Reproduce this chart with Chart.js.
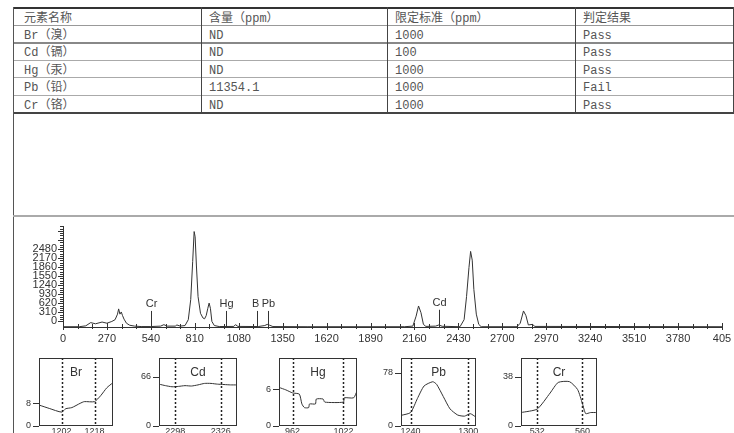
<!DOCTYPE html>
<html><head><meta charset="utf-8">
<script src="https://cdn.jsdelivr.net/npm/chart.js@4/dist/chart.umd.min.js"></script>
<style>
html,body{margin:0;padding:0;background:#fff;width:734px;height:433px;overflow:hidden;}
body{position:relative;}
.ln{position:absolute;background:#444;}
.cell{position:absolute;font-family:"Liberation Mono","Noto Sans CJK SC",monospace;font-size:12px;color:#555;white-space:nowrap;line-height:14px;}
canvas{position:absolute;}
</style>
</head><body>
<script>
// ---------- table data ----------
const tableHeader = ['元素名称','含量（ppm）','限定标准（ppm）','判定结果'];
const elementNames = ['Br（溴）','Cd（镉）','Hg（汞）','Pb（铅）','Cr（铬）'];
const contents = ['ND','ND','ND','11354.1','ND'];
const limits = ['1000','100','1000','1000','1000'];
const verdicts = ['Pass','Pass','Pass','Fail','Pass'];

// ---------- spectrum data (channel, counts) ----------
const specX = [0,100,140,170,200,240,270,300,320,335,342,350,358,366,375,390,410,440,480,540,600,620,640,690,700,720,750,770,785,797,806,812,820,830,845,860,870,880,890,898,906,915,930,960,1050,1060,1075,1200,1240,1255,1270,1290,1500,2100,2150,2170,2185,2200,2215,2230,2290,2310,2330,2440,2465,2480,2495,2505,2515,2525,2540,2555,2570,2790,2810,2830,2845,2860,2885,2900,4050];
const specY = [-180,-180,-150,-40,-80,-20,-60,0,60,250,430,250,325,200,80,-60,-130,-160,-175,-175,-160,-110,-160,-160,-120,-160,-140,60,750,2050,3080,2900,1900,850,280,120,90,200,450,630,450,0,-140,-175,-170,-110,-170,-175,-140,-100,-130,-175,-180,-180,-160,180,530,300,-100,-170,-160,-120,-165,-180,60,850,1850,2400,2100,1100,250,-100,-180,-180,-60,360,200,-120,-100,-170,-180];
const xTickVals = [0,270,540,810,1080,1350,1620,1890,2160,2430,2700,2970,3240,3510,3780,4050];
const xTickLabels = ['0','270','540','810','1080','1350','1620','1890','2160','2430','2700','2970','3240','3510','3780','405'];
const yTickVals = [0,310,620,930,1240,1550,1860,2170,2480];
const yTickLabels = ['0','310','620','930','1240','1550','1860','2170','2480'];
const markerNames = ['Cr','Hg','Br','Pb','Cd'];
const markerChannels = [541,999,1192,1261,2310];
const markerLevels = [360,360,360,360,400];

// ---------- inset data ----------
const insetNames = ['Br','Cd','Hg','Pb','Cr'];
const brX = [1191,1196,1202,1204,1207,1211,1213,1218,1221,1224,1227];
const brY = [7.4,6.2,4.9,6.1,6.5,8.0,8.6,8.6,10.7,13.5,15.3];
const cdX = [2288,2292,2296,2300,2304,2308,2312,2316,2320,2324,2328,2332,2336];
const cdY = [56,54,52.5,53,54,53.5,55,57,57,56,55.5,55,55];
const hgX = [946,954,962,970,973,976,981,982,989,990,998,1000,1022,1023,1034,1038];
const hgY = [6.3,5.9,5.4,5.2,3.6,3.0,3.0,3.6,3.6,4.4,4.4,3.9,3.9,4.6,4.6,5.7];
const pbX = [1230,1240,1247,1254,1263,1267,1274,1281,1289,1296,1302,1308];
const pbY = [15.5,19.7,40,58.5,64.7,61,43,25,16,14.4,18,13];
const crX = [522,532,540,545,552,557,560,562,565,569];
const crY = [10.4,13.1,25.5,33.7,34.3,28.2,17.3,9.6,10.4,10.4];
const insetXs = [brX,cdX,hgX,pbX,crX];
const insetYs = [brY,cdY,hgY,pbY,crY];
const insetXMin = [1191,2288,946,1230,522];
const insetXMax = [1227,2336,1038,1308,569];
const insetYMax = [24,91,11.1,99.4,52.6];
const insetYTick = [8,66,6,78,38];
const insetRoiLo = [1202,2298,962,1240,532];
const insetRoiHi = [1218,2326,1022,1300,560];

// ---------- layout ----------
const colX = [13,201,387,575,733];
const rowY = [7,25,42,60,77,95,112];
const rowTextShift = [2,1,1,1,1,1];
const rowLineStyle = [['1.5px','#333'],['1px','#999'],['2px','#888'],['1px','#aaa'],['1px','#aaa'],['1px','#aaa'],['1.5px','#444']];
const insetLeft = [39,159,279,401,521];
const insetWidth = [74,78,78,75,76];

function addLine(x,y,w,h,c){const d=document.createElement('div');d.className='ln';d.style.left=x+'px';d.style.top=y+'px';d.style.width=w+'px';d.style.height=h+'px';if(c)d.style.background=c;document.body.appendChild(d);}
function addText(x,y,t){const d=document.createElement('div');d.className='cell';d.style.left=x+'px';d.style.top=y+'px';d.textContent=t;document.body.appendChild(d);}

rowY.forEach((y,i)=>{addLine(13,y,721,parseFloat(rowLineStyle[i][0]),rowLineStyle[i][1]);});
colX.slice(1).forEach(x=>addLine(x,7,1,105,'#444'));
addLine(13,7,1,426,'#555');
addLine(13,215,721,2,'#aaa');
const tableRows = [tableHeader].concat(elementNames.map((n,i)=>[n,contents[i],limits[i],verdicts[i]]));
tableRows.forEach((r,ri)=>{
  const cy=(rowY[ri]+rowY[ri+1])/2-6+rowTextShift[ri];
  r.forEach((t,ci)=>addText(colX[ci]+(ci===0?11:8),cy,t));
});

function mk(left,top,w,h){const c=document.createElement('canvas');c.width=w;c.height=h;c.style.left=left+'px';c.style.top=top+'px';c.style.width=w+'px';c.style.height=h+'px';document.body.appendChild(c);return c;}

const FONT='"Liberation Sans", Arial, sans-serif';

// ---------- main spectrum ----------
const mainMarks = {
  id:'mainMarks',
  afterDatasetsDraw(chart){
    const {ctx, chartArea:a, scales:{x,y}} = chart;
    ctx.save();
    ctx.strokeStyle='#333'; ctx.lineWidth=1;
    for(let v=0; v<=4050; v+=90){
      const px=Math.round(x.getPixelForValue(v))+0.5; const major=(v%270===0);
      ctx.beginPath(); ctx.moveTo(px,a.bottom-(major?4:3)); ctx.lineTo(px,a.bottom+(major?3:2)); ctx.stroke();
    }
    for(let v=0; v<=3255; v+=77.5){
      const py=Math.round(y.getPixelForValue(v))+0.5; const major=(Math.abs(v%310)<0.01);
      ctx.beginPath(); ctx.moveTo(a.left-(major?5:3),py); ctx.lineTo(a.left+1,py); ctx.stroke();
    }
    ctx.font='11px '+FONT; ctx.textAlign='center'; ctx.textBaseline='bottom';
    markerNames.forEach((n,i)=>{
      const px=Math.round(x.getPixelForValue(markerChannels[i]))+0.5;
      const py=y.getPixelForValue(markerLevels[i]);
      ctx.strokeStyle='#333';
      ctx.beginPath(); ctx.moveTo(px,a.bottom); ctx.lineTo(px,py); ctx.stroke();
      const tw=ctx.measureText(n).width;
      ctx.fillStyle='#fff'; ctx.fillRect(px-tw/2-3,py-12,tw+6,11);
      ctx.fillStyle='#333'; ctx.fillText(n,px,py-1);
    });
    ctx.restore();
  }
};
const mc = mk(0,218,734,128);
new Chart(mc,{
  type:'line',
  data:{datasets:[{data:specX.map((v,i)=>({x:v,y:specY[i]})),borderColor:'#333',borderWidth:1,pointRadius:0,tension:0,fill:false}]},
  options:{
    responsive:false, animation:false, devicePixelRatio:1,
    layout:{padding:{top:8,right:12,left:0,bottom:0}},
    plugins:{legend:{display:false},tooltip:{enabled:false}},
    scales:{
      x:{type:'linear',min:0,max:4050,
        afterBuildTicks:s=>{s.ticks=xTickVals.map(v=>({value:v}));},
        afterFit:s=>{s.height=19;s.paddingLeft=0;s.paddingRight=0;},
        grid:{display:false,drawTicks:false},
        border:{display:true,color:'#333',width:1},
        ticks:{autoSkip:false,maxRotation:0,padding:5,color:'#333',font:{family:FONT,size:11},callback:(v,i)=>xTickLabels[i]}},
      y:{type:'linear',min:-190,max:3270,
        afterBuildTicks:s=>{s.ticks=yTickVals.map(v=>({value:v}));},
        afterFit:s=>{s.width=63;s.paddingTop=0;s.paddingBottom=0;},
        grid:{display:false,drawTicks:false},
        border:{display:true,color:'#333',width:1},
        ticks:{autoSkip:false,padding:6,color:'#333',font:{family:FONT,size:11},callback:(v,i)=>yTickLabels[i]}}
    }
  },
  plugins:[mainMarks]
});

// ---------- insets ----------
const insetDeco = {
  id:'insetDeco',
  afterDatasetsDraw(chart){
    const {ctx, chartArea:a, scales:{x,y}} = chart;
    const i = chart.options.insetIndex;
    ctx.save();
    ctx.strokeStyle='#222'; ctx.lineWidth=1.5; ctx.setLineDash([2,2]);
    [insetRoiLo[i],insetRoiHi[i]].forEach(v=>{
      const px=Math.round(x.getPixelForValue(v))+0.5;
      ctx.beginPath(); ctx.moveTo(px,a.top); ctx.lineTo(px,a.bottom); ctx.stroke();
    });
    ctx.setLineDash([]); ctx.lineWidth=1; ctx.strokeStyle='#333';
    ctx.strokeRect(Math.round(a.left)+0.5,Math.round(a.top)+0.5,Math.round(a.right-a.left)-1,Math.round(a.bottom-a.top)-1);
    [0,insetYTick[i]].forEach(v=>{
      const py=Math.round(y.getPixelForValue(v))+0.5;
      ctx.beginPath(); ctx.moveTo(a.left-6,py); ctx.lineTo(a.left,py); ctx.stroke();
    });
    ctx.font='12px '+FONT; ctx.fillStyle='#333'; ctx.textAlign='center'; ctx.textBaseline='middle';
    ctx.fillText(insetNames[i],(a.left+a.right)/2,a.top+15);
    ctx.restore();
  }
};
insetNames.forEach((n,i)=>{
  const c = mk(insetLeft[i]-32,352,insetWidth[i]+36,81);
  new Chart(c,{
    type:'line',
    data:{datasets:[{data:insetXs[i].map((v,k)=>({x:v,y:insetYs[i][k]})),borderColor:'#333',borderWidth:1,pointRadius:0,tension:0.2,fill:false}]},
    options:{
      insetIndex:i,
      responsive:false, animation:false, devicePixelRatio:1,
      layout:{padding:{top:6,right:4,left:0,bottom:0}},
      plugins:{legend:{display:false},tooltip:{enabled:false}},
      scales:{
        x:{type:'linear',min:insetXMin[i],max:insetXMax[i],
          afterBuildTicks:s=>{s.ticks=[insetRoiLo[i],insetRoiHi[i]].map(v=>({value:v}));},
          afterFit:s=>{s.height=7;s.paddingLeft=0;s.paddingRight=0;},
          grid:{display:false,drawTicks:false},border:{display:false},
          ticks:{autoSkip:false,maxRotation:0,padding:0,color:'#333',font:{family:FONT,size:9},callback:v=>String(v)}},
        y:{type:'linear',min:0,max:insetYMax[i],
          afterBuildTicks:s=>{s.ticks=[0,insetYTick[i]].map(v=>({value:v}));},
          afterFit:s=>{s.width=32;s.paddingTop=0;s.paddingBottom=0;},
          grid:{display:false,drawTicks:false},border:{display:false},
          ticks:{autoSkip:false,padding:8,color:'#333',font:{family:FONT,size:9},callback:v=>String(v)}}
      }
    },
    plugins:[insetDeco]
  });
});
</script>
</body></html>
